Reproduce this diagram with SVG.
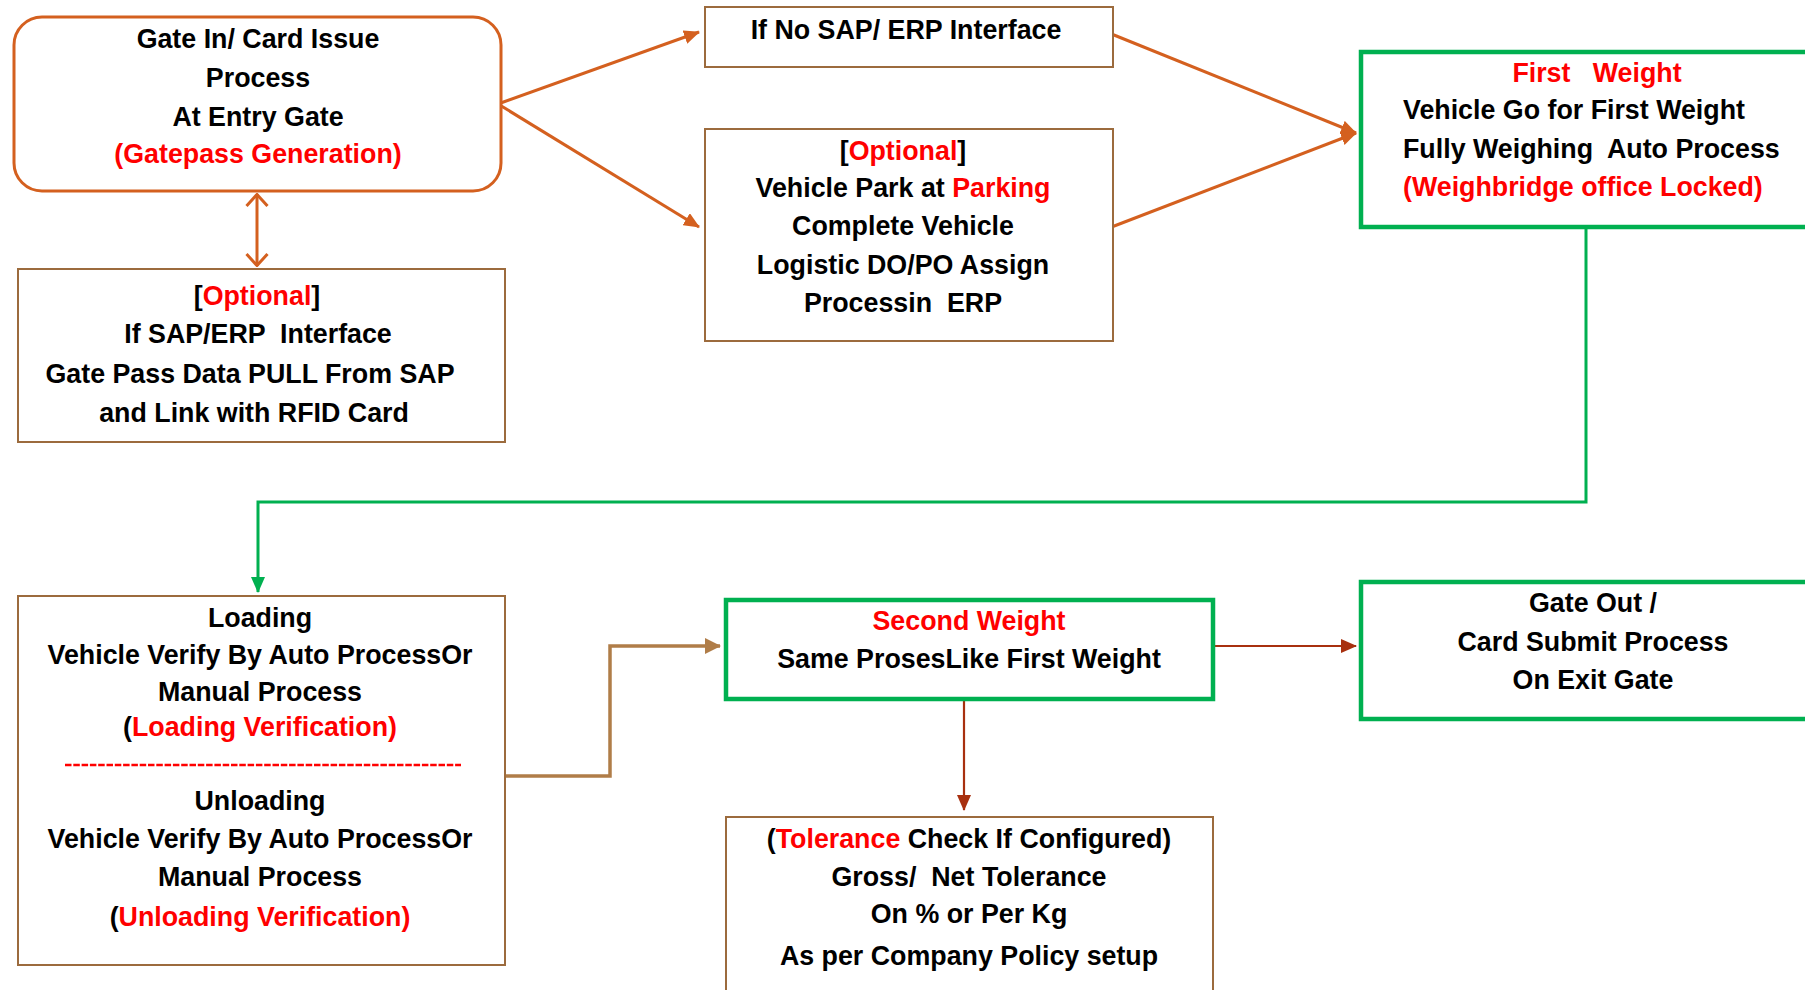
<svg xmlns="http://www.w3.org/2000/svg" width="1805" height="990" viewBox="0 0 1805 990">
<style>
text{font-family:"Liberation Sans",Arial,sans-serif;font-weight:bold;font-size:26.8px;fill:#000;white-space:pre}
.c{text-anchor:middle}
.r{fill:#FF0000}
.bx{fill:#fff;stroke:#9C6B3D;stroke-width:2}
.gx{fill:#fff;stroke:#00B050;stroke-width:4.5}
.ox{fill:#fff;stroke:#D4601F;stroke-width:3}
.co{fill:none;stroke:#D4601F;stroke-width:3}
.cg{fill:none;stroke:#00B050;stroke-width:3}
.cb{fill:none;stroke:#B07D48;stroke-width:3.5}
.cr{fill:none;stroke:#A8300F;stroke-width:2.2}
</style>
<defs>
<marker id="ao" viewBox="0 0 16 14" refX="15" refY="7" markerWidth="16" markerHeight="14" markerUnits="userSpaceOnUse" orient="auto"><path d="M0,0 L16,7 L0,14 z" fill="#D4601F"/></marker>
<marker id="ag" viewBox="0 0 16 14" refX="15" refY="7" markerWidth="16" markerHeight="14" markerUnits="userSpaceOnUse" orient="auto"><path d="M0,0 L16,7 L0,14 z" fill="#00B050"/></marker>
<marker id="ab" viewBox="0 0 16 16" refX="15" refY="8" markerWidth="16" markerHeight="16" markerUnits="userSpaceOnUse" orient="auto"><path d="M0,0 L16,8 L0,16 z" fill="#B07D48"/></marker>
<marker id="ar" viewBox="0 0 16 14" refX="15" refY="7" markerWidth="16" markerHeight="14" markerUnits="userSpaceOnUse" orient="auto"><path d="M0,0 L16,7 L0,14 z" fill="#A8300F"/></marker>
<marker id="av" viewBox="0 0 14 24" refX="13" refY="12" markerWidth="14" markerHeight="24" markerUnits="userSpaceOnUse" orient="auto-start-reverse"><path d="M1,1.5 L12.5,12 L1,22.5" fill="none" stroke="#D4601F" stroke-width="3"/></marker>
</defs>

<g id="connectors">
<line class="co" x1="498" y1="104" x2="699" y2="32" marker-end="url(#ao)"/>
<line class="co" x1="498" y1="104" x2="699" y2="227" marker-end="url(#ao)"/>
<line class="co" x1="1109" y1="33" x2="1356" y2="133" marker-end="url(#ao)"/>
<line class="co" x1="1109" y1="228" x2="1356" y2="133" marker-end="url(#ao)"/>
<line class="co" x1="257" y1="194" x2="257" y2="266" marker-start="url(#av)" marker-end="url(#av)"/>
<path class="cg" d="M1586,227 V502 H258 V592" marker-end="url(#ag)"/>
<path class="cb" d="M502,776 H610 V646 H720" marker-end="url(#ab)"/>
<path class="cr" d="M964,694 V810" marker-end="url(#ar)"/>
<path class="cr" d="M1209,646 H1356" marker-end="url(#ar)"/>
</g>

<g id="gate-in">
<rect class="ox" x="14" y="17" width="487" height="174" rx="28"/>
<text class="c" x="258" y="48">Gate In/ Card Issue</text>
<text class="c" x="258" y="87">Process</text>
<text class="c" x="258" y="126">At Entry Gate</text>
<text class="c r" x="258" y="163">(Gatepass Generation)</text>
</g>

<g id="sap-optional">
<rect class="bx" x="18" y="269" width="487" height="173"/>
<text class="c" x="257" y="305">[<tspan class="r">Optional</tspan>]</text>
<text class="c" x="258" y="343">If SAP/ERP  Interface</text>
<text class="c" x="250" y="383">Gate Pass Data PULL From SAP</text>
<text class="c" x="254" y="422">and Link with RFID Card</text>
</g>

<g id="no-sap">
<rect class="bx" x="705" y="7" width="408" height="60"/>
<text class="c" x="906" y="39">If No SAP/ ERP Interface</text>
</g>

<g id="parking">
<rect class="bx" x="705" y="129" width="408" height="212"/>
<text class="c" x="903" y="160">[<tspan class="r">Optional</tspan>]</text>
<text class="c" x="903" y="197">Vehicle Park at <tspan class="r">Parking</tspan></text>
<text class="c" x="903" y="235">Complete Vehicle</text>
<text class="c" x="903" y="274">Logistic DO/PO Assign</text>
<text class="c" x="903" y="312">Processin  ERP</text>
</g>

<g id="first-weight">
<rect class="gx" x="1361" y="52" width="460" height="175"/>
<text class="c r" x="1597" y="82">First   Weight</text>
<text x="1403" y="119">Vehicle Go for First Weight</text>
<text x="1403" y="158">Fully Weighing  Auto Process</text>
<text class="r" x="1403" y="196">(Weighbridge office Locked)</text>
</g>

<g id="loading">
<rect class="bx" x="18" y="596" width="487" height="369"/>
<text class="c" x="260" y="627">Loading</text>
<text class="c" x="260" y="664">Vehicle Verify By Auto ProcessOr</text>
<text class="c" x="260" y="701">Manual Process</text>
<text class="c" x="260" y="736">(<tspan class="r">Loading Verification)</tspan></text>
<line x1="65" y1="765" x2="461" y2="765" stroke="#FF0000" stroke-width="2.5" stroke-dasharray="6.5 1.8"/>
<text class="c" x="260" y="810">Unloading</text>
<text class="c" x="260" y="848">Vehicle Verify By Auto ProcessOr</text>
<text class="c" x="260" y="886">Manual Process</text>
<text class="c" x="260" y="926">(<tspan class="r">Unloading Verification)</tspan></text>
</g>

<g id="second-weight">
<rect class="gx" x="726" y="600" width="487" height="99"/>
<text class="c r" x="969" y="630">Second Weight</text>
<text class="c" x="969" y="668">Same ProsesLike First Weight</text>
</g>

<g id="tolerance">
<rect class="bx" x="726" y="817" width="487" height="190"/>
<text class="c" x="969" y="848">(<tspan class="r">Tolerance</tspan> Check If Configured)</text>
<text class="c" x="969" y="886">Gross/  Net Tolerance</text>
<text class="c" x="969" y="923">On % or Per Kg</text>
<text class="c" x="969" y="965">As per Company Policy setup</text>
</g>

<g id="gate-out">
<rect class="gx" x="1361" y="582" width="460" height="137"/>
<text class="c" x="1593" y="612">Gate Out /</text>
<text class="c" x="1593" y="651">Card Submit Process</text>
<text class="c" x="1593" y="689">On Exit Gate</text>
</g>
</svg>
